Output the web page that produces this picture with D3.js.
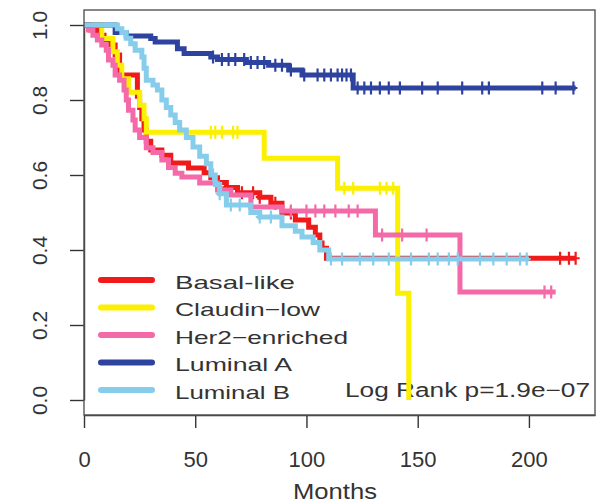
<!DOCTYPE html>
<html>
<head>
<meta charset="utf-8">
<script src="https://cdn.jsdelivr.net/npm/d3@7"></script>
<style>
  html, body { margin: 0; padding: 0; background: #fff; }
  svg { display: block; }
</style>
</head>
<body>
<div id="chart"></div>
<script>
// groups in draw order (last one ends up on top)
const groups = ["Basal-like", "Claudin\u2212low", "Her2\u2212enriched", "Luminal A", "Luminal B"];

// Kaplan-Meier steps: time (months) of each drop and survival after it
const basalT = [0, 3, 6, 9, 12, 14, 16, 24, 25, 26, 27, 28, 30, 35, 39, 47, 54, 57, 60, 64, 69, 79, 84, 89, 95, 101, 104, 106, 107, 109];
const basalS = [1, .987, .973, .96, .947, .92, .867, .81, .78, .75, .72, .69, .667, .653, .632, .619, .606, .593, .58, .567, .553, .541, .525, .499, .48, .461, .44, .419, .405, .378];
const basalCens = [60, 64, 71, 76, 79, 86, 93, 214, 218, 221];

const claudinT = [0, 8, 13, 15, 17, 20, 25, 27, 28, 81, 114, 141, 146];
const claudinS = [1, .964, .929, .893, .857, .821, .786, .75, .714, .645, .565, .285, 0];
const claudinCens = [57, 59, 62, 67, 69, 117, 121, 133, 136, 139];

const her2T = [0, 2, 4, 6, 8, 10, 11, 13, 14, 16, 18, 19, 20, 22, 23, 25, 28, 31, 35, 38, 41, 44, 52, 60, 66, 75, 89, 131, 169];
const her2S = [1, .987, .973, .96, .947, .933, .907, .893, .867, .853, .827, .8, .773, .747, .72, .7, .673, .66, .64, .62, .605, .595, .579, .56, .547, .515, .504, .44, .288];
const her2Cens = [93, 100, 104, 108, 113, 119, 123, 134, 143, 154, 207, 210];

const lumAT = [0, 14, 19, 30, 32, 42, 45, 57, 60, 73, 83, 92, 98, 121];
const lumAS = [1, .98, .971, .964, .955, .937, .924, .915, .908, .9, .893, .88, .867, .832];
const lumACens = [58, 62, 65, 68, 72, 75, 78, 81, 86, 89, 93, 99, 105, 108, 111, 114, 116, 118, 120, 123, 126, 129, 133, 137, 142, 152, 159, 170, 179, 182, 206, 212, 220];

const lumBT = [0, 15, 17, 19, 21, 23, 26, 27, 28, 31, 33, 35, 37, 39, 41, 43, 46, 49, 52, 55, 57, 59, 61, 64, 75, 79, 89, 95, 98, 103, 106, 110];
const lumBS = [1, .99, .98, .965, .95, .933, .915, .885, .853, .84, .827, .8, .78, .76, .74, .72, .7, .675, .65, .63, .6, .575, .55, .52, .5, .488, .465, .45, .435, .42, .4, .376];
const lumBCens = [58, 61, 66, 70, 79, 84, 111, 116, 124, 130, 137, 147, 155, 159, 164, 168, 178, 184, 190, 196, 199];

const lastFollowUp = [221, 146, 212, 221, 200];

const xTicks = [0, 50, 100, 150, 200];
const yTicks = [0, 0.2, 0.4, 0.6, 0.8, 1.0];
const pValueText = "Log Rank p=1.9e\u221207";
const xTitle = "Months";

const colors = ["#f01a1a", "#fbf000", "#f46aa8", "#2e43a0", "#86cdec"];

const W = 600, H = 504;
const font = "Liberation Sans, Arial, Helvetica, sans-serif";
const ink = "#333";

const svg = d3.select("#chart").append("svg")
  .attr("width", W).attr("height", H)
  .attr("viewBox", `0 0 ${W} ${H}`);

const x = d3.scaleLinear().domain([0, 229.7]).range([84, 595]);
const y = d3.scaleLinear().domain([0, 1]).range([400, 25]);

const series = [
  { t: basalT, s: basalS, cens: basalCens },
  { t: claudinT, s: claudinS, cens: claudinCens },
  { t: her2T, s: her2S, cens: her2Cens },
  { t: lumAT, s: lumAS, cens: lumACens },
  { t: lumBT, s: lumBS, cens: lumBCens }
].map((d, i) => ({ ...d, name: groups[i], color: colors[i], end: lastFollowUp[i] }));

/* axes, R style: outward ticks, rotated y labels */
const yAxis = svg.append("g")
  .attr("transform", `translate(${x.range()[0]},0)`)
  .call(d3.axisLeft(y).tickValues(yTicks).tickSize(14).tickSizeOuter(0).tickFormat(d3.format(".1f")));
yAxis.selectAll("text")
  .attr("transform", "rotate(-90)")
  .attr("x", 0).attr("y", -37).attr("dy", null)
  .attr("text-anchor", "middle")
  .attr("font-size", "21px").attr("font-family", font).attr("fill", ink);

const xAxis = svg.append("g")
  .attr("transform", "translate(0,415)")
  .call(d3.axisBottom(x).tickValues(xTicks).tickSize(13).tickSizeOuter(0));
xAxis.selectAll("text")
  .attr("y", 52).attr("dy", null)
  .attr("font-size", "22px").attr("font-family", font).attr("fill", ink);

svg.selectAll(".domain, .tick line").attr("stroke", "#333").attr("stroke-width", 1.4);

svg.append("text").attr("x", 335).attr("y", 499)
  .attr("text-anchor", "middle").attr("font-family", font)
  .attr("font-size", "22px").attr("fill", ink)
  .attr("textLength", 84).attr("lengthAdjust", "spacingAndGlyphs")
  .text(xTitle);

/* p-value note sits under the curves */
svg.append("text").attr("x", 345).attr("y", 397)
  .attr("font-family", font).attr("font-size", "20px").attr("fill", ink)
  .attr("textLength", 245).attr("lengthAdjust", "spacingAndGlyphs")
  .text(pValueText);

/* survival curves */
const line = d3.line()
  .x(d => x(d[0])).y(d => y(d[1]))
  .curve(d3.curveStepAfter);

const plot = svg.append("g");
series.forEach(sr => {
  const pts = sr.t.map((t, i) => [t, sr.s[i]]);
  pts.push([sr.end, sr.s[sr.s.length - 1]]);
  plot.append("path").datum(pts)
    .attr("d", line)
    .attr("fill", "none")
    .attr("stroke", sr.color)
    .attr("stroke-width", 5)
    .attr("stroke-linejoin", "miter")
    .attr("stroke-linecap", "butt");

  // censoring marks (+) at the curve value
  const sAt = t => sr.s[Math.max(0, d3.bisectRight(sr.t, t) - 1)];
  plot.append("g").selectAll("path")
    .data(sr.cens)
    .join("path")
    .attr("d", t => {
      const cx = x(t), cy = y(sAt(t));
      return `M${cx},${cy - 6.5}V${cy + 6.5}M${cx - 4},${cy}H${cx + 4}`;
    })
    .attr("stroke", sr.color)
    .attr("stroke-width", 2.2)
    .attr("fill", "none");
});

/* frame */
svg.append("rect")
  .attr("x", 84).attr("y", 10)
  .attr("width", 595 - 84).attr("height", 415 - 10)
  .attr("fill", "none").attr("stroke", "#555").attr("stroke-width", 1.4);

/* legend */
const legendLens = [120, 145, 173, 117, 115];
const legend = svg.append("g");
series.forEach((sr, i) => {
  const cy = 280 + i * 27.5;
  legend.append("line")
    .attr("x1", 101).attr("x2", 152).attr("y1", cy).attr("y2", cy)
    .attr("stroke", sr.color).attr("stroke-width", 6).attr("stroke-linecap", "round");
  legend.append("text")
    .attr("x", 175).attr("y", cy + 8.5)
    .attr("font-family", font).attr("font-size", "19px").attr("fill", ink)
    .attr("textLength", legendLens[i]).attr("lengthAdjust", "spacingAndGlyphs")
    .text(sr.name);
});
</script>
</body>
</html>
